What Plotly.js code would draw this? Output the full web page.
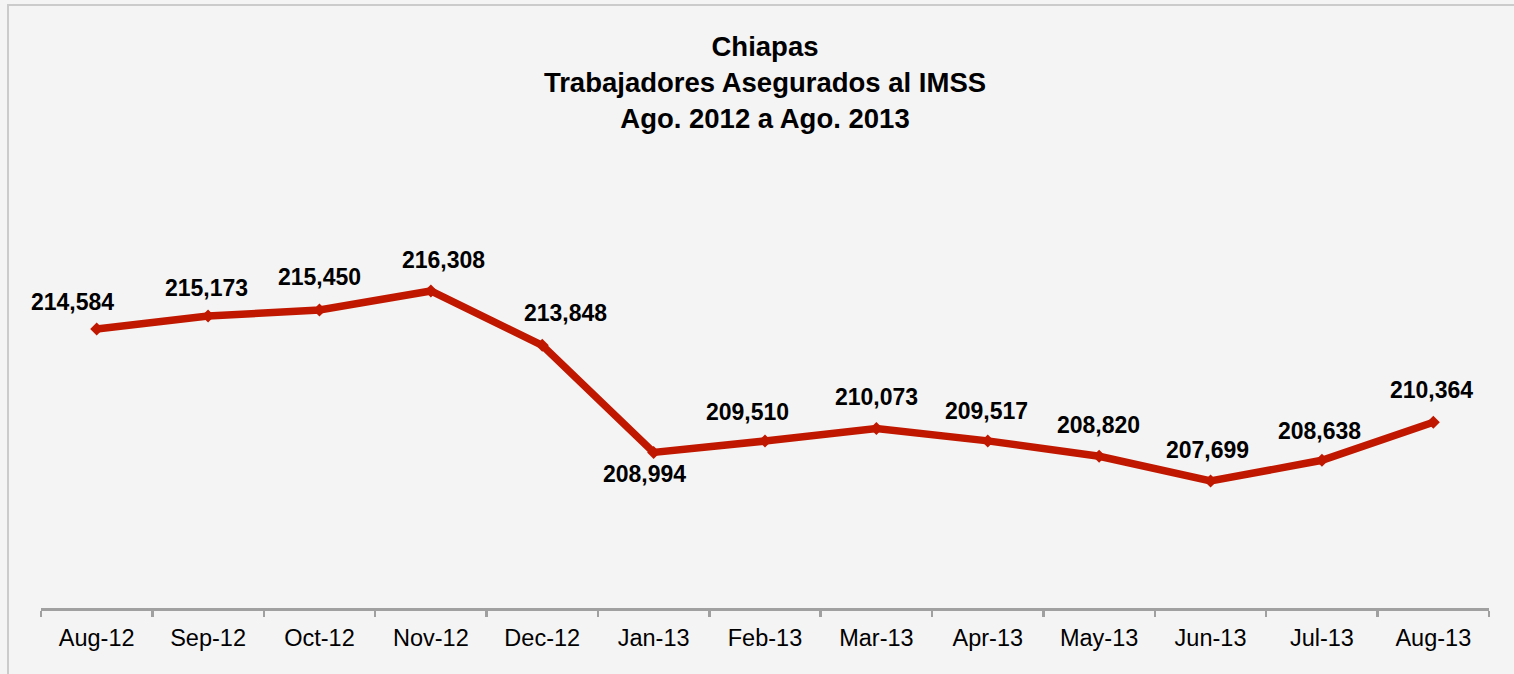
<!DOCTYPE html>
<html>
<head>
<meta charset="utf-8">
<script src="https://cdn.plot.ly/plotly-3.0.1.min.js"></script>
<style>
  html, body { margin: 0; padding: 0; background: #f4f4f4; }
  #wrap { position: relative; width: 1514px; height: 674px; overflow: hidden; }
  #chart { position: absolute; left: 0; top: 0; width: 1514px; height: 674px; }
  #frame { position: absolute; left: 7px; top: 4px; width: 1600px; height: 800px;
           border-left: 2px solid #cbcbcb; border-top: 2px solid #cbcbcb; pointer-events: none; }
</style>
</head>
<body>
<div id="wrap">
  <div id="chart"></div>
  <div id="frame"></div>
</div>
<script>
// Data
const months = ["Aug-12","Sep-12","Oct-12","Nov-12","Dec-12","Jan-13","Feb-13","Mar-13","Apr-13","May-13","Jun-13","Jul-13","Aug-13"];
const workers = [214584, 215173, 215450, 216308, 213848, 208994, 209510, 210073, 209517, 208820, 207699, 208638, 210364];
const titleLines = ["Chiapas", "Trabajadores Asegurados al IMSS", "Ago. 2012 a Ago. 2013"];

// Label placement (styling only)
const labelDx = [-24, -2, 0, 13, 23, -9, -18, 0, -1, -1, -3, -2, -2];
const labelDy = [27, 28, 33, 31, 32, -22, 29, 32, 30, 31, 31, 29, 32];

const fmt = v => v.toLocaleString('en-US');

const trace = {
  x: months,
  y: workers,
  type: 'scatter',
  mode: 'lines+markers',
  line: { color: '#c01800', width: 7.5 },
  marker: { symbol: 'diamond', size: 10, color: '#c01800' },
  hoverinfo: 'x+y',
  cliponaxis: false
};

const annotations = months.map((m, i) => ({
  x: m, y: workers[i], xref: 'x', yref: 'y',
  text: fmt(workers[i]),
  showarrow: false,
  xanchor: 'center', yanchor: 'middle',
  xshift: labelDx[i], yshift: labelDy[i],
  font: { family: 'Liberation Sans, Arial, sans-serif', size: 23, color: '#000000', weight: 'bold' }
}));

const layout = {
  width: 1514, height: 674,
  paper_bgcolor: '#f4f4f4',
  plot_bgcolor: '#f4f4f4',
  margin: { l: 41, r: 25, t: 165, b: 66, pad: 0 },
  showlegend: false,
  title: {
    text: titleLines.map(t => '<b>' + t + '</b>').join('<br>'),
    font: { family: 'Liberation Sans, Arial, sans-serif', size: 27.5, color: '#000000' },
    x: 0.5, xref: 'paper', xanchor: 'center',
    y: 1 - 56 / 674, yref: 'container', yanchor: 'top'
  },
  xaxis: {
    type: 'category',
    range: [-0.5, months.length - 0.5],
    tickson: 'boundaries',
    ticks: 'outside', ticklen: 6, tickwidth: 2.5, tickcolor: '#a0a0a0',
    ticklabelstandoff: 7,
    showline: true, linecolor: '#a0a0a0', linewidth: 2.5,
    showgrid: false, zeroline: false,
    tickfont: { family: 'Liberation Sans, Arial, sans-serif', size: 23.5, color: '#000000' },
    fixedrange: true
  },
  yaxis: {
    range: [201945, 222017],
    visible: false,
    showgrid: false, zeroline: false,
    fixedrange: true
  },
  annotations: annotations
};

Plotly.newPlot('chart', [trace], layout, { displayModeBar: false, staticPlot: true });
</script>
</body>
</html>
